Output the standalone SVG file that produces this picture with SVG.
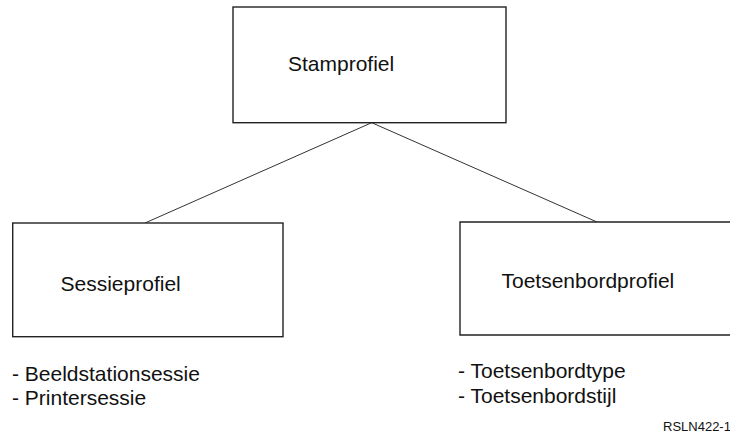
<svg xmlns="http://www.w3.org/2000/svg" width="730" height="434" viewBox="0 0 730 434">
<style>
.box{fill:#fff;stroke:#222;stroke-width:1.4}
.conn{stroke:#333;stroke-width:1;fill:none}
text{font-family:"Liberation Sans",Arial,sans-serif;fill:#111}
.lbl{font-size:21px}
.list{font-size:21px}
.ref{font-size:13px}
</style>
<rect width="730" height="434" fill="#fff"/>
<g id="connectors">
<line class="conn" x1="371.7" y1="122.7" x2="145" y2="223"/>
<line class="conn" x1="371.7" y1="122.7" x2="597" y2="222"/>
</g>
<g id="stamprofiel">
<rect class="box" x="233" y="7" width="273" height="115.7"/>
<text class="lbl" x="288" y="70.7">Stamprofiel</text>
</g>
<g id="sessieprofiel">
<rect class="box" x="12.7" y="223" width="270.3" height="113.7"/>
<text class="lbl" x="60.5" y="290.7">Sessieprofiel</text>
</g>
<g id="toetsenbordprofiel">
<path class="box" d="M731,222 H460 V335 H731"/>
<text class="lbl" x="501.5" y="288.3">Toetsenbordprofiel</text>
</g>
<g id="sessie-list">
<text class="list" x="12" y="380.7">- Beeldstationsessie</text>
<text class="list" x="12" y="405">- Printersessie</text>
</g>
<g id="toetsenbord-list">
<text class="list" x="458" y="378.3">- Toetsenbordtype</text>
<text class="list" x="458" y="403.3">- Toetsenbordstijl</text>
</g>
<text class="ref" x="663" y="430.5">RSLN422-1</text>
</svg>
